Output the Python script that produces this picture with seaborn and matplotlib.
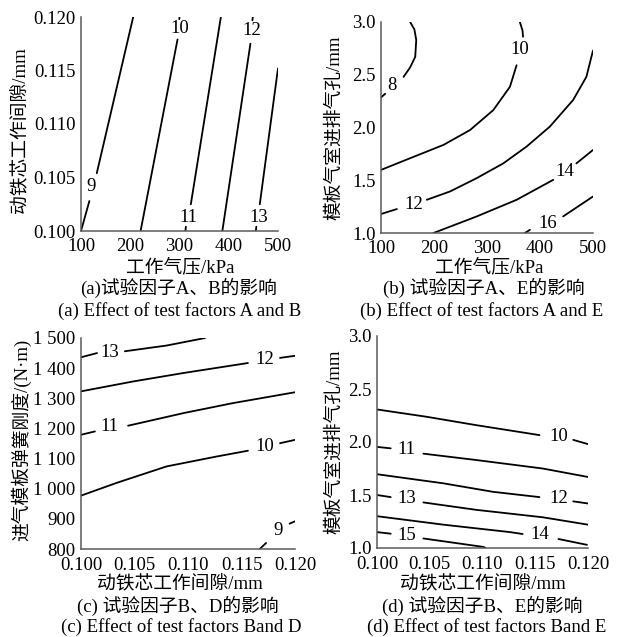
import matplotlib
matplotlib.use("Agg")
import matplotlib.pyplot as plt
import seaborn as sns
import pandas as pd

sns.set_theme(style="white")
FAM = ["Liberation Serif", "Noto Sans CJK SC", "DejaVu Sans"]
plt.rcParams["font.family"] = FAM

# ---------------- data ----------------
# Panel (a): x = working pressure kPa, y = moving core gap mm
a_lines = {
    9: [[(100, 0.100), (117, 0.1028)], [(132, 0.1054), (206, 0.120)]],
    10: [[(221, 0.100), (296, 0.1179)], [(299.5, 0.1198), (300, 0.120)]],
    11: [[(312, 0.100), (313, 0.1004)], [(323, 0.1025), (384, 0.120)]],
    12: [[(387, 0.100), (444, 0.1175)], [(448, 0.1197), (449, 0.120)]],
    13: [[(455, 0.100), (456, 0.1004)], [(463, 0.1025), (500, 0.1152)]],
}
a_label_pos = {9: (121, 0.1042), 10: (300, 0.1189), 11: (319, 0.1013),
               12: (447, 0.1187), 13: (461, 0.1013)}

# Panel (b): x = working pressure kPa, y = vent hole mm
b_lines = {
    8: [[(155, 3.0), (163, 2.93), (166.5, 2.83), (164.6, 2.67), (155, 2.57), (142.6, 2.48)],
        [(108, 2.32), (100, 2.285)]],
    10: [[(362, 3.0), (367, 2.92), (368, 2.86)],
         [(355.8, 2.59), (343.3, 2.386), (311.9, 2.165), (268, 1.976),
          (217.9, 1.835), (155, 1.709), (100, 1.598)]],
    12: [[(500, 2.73), (487.5, 2.48), (462.4, 2.26), (418.5, 2.008), (374.6, 1.819),
          (330.7, 1.66), (280.6, 1.52), (230.4, 1.394), (186.5, 1.315)],
         [(130, 1.227), (100, 1.18)]],
    14: [[(199, 1.0), (280.6, 1.157), (356, 1.315), (425, 1.504)],
         [(468.7, 1.66), (500, 1.787)]],
    16: [[(371.5, 1.0), (381, 1.03)], [(443.6, 1.157), (500, 1.346)]],
}
b_label_pos = {8: (121, 2.40), 10: (362, 2.74), 12: (162.7, 1.268),
               14: (447, 1.583), 16: (415, 1.094)}

# Panel (c): x = moving core gap mm, y = spring stiffness N/m
c_lines = {
    13: [[(0.100, 1436), (0.1015, 1450)],
         [(0.1041, 1456), (0.108, 1475), (0.1116, 1500)]],
    12: [[(0.100, 1323), (0.1049, 1356), (0.1096, 1384), (0.1156, 1417)],
         [(0.1186, 1434), (0.120, 1441)]],
    11: [[(0.100, 1179), (0.1013, 1190)],
         [(0.1044, 1209), (0.1096, 1251), (0.1142, 1284), (0.120, 1320)]],
    10: [[(0.100, 977), (0.1033, 1019), (0.108, 1074), (0.1127, 1107), (0.1156, 1126)],
         [(0.1186, 1151), (0.120, 1162)]],
    9: [[(0.1167, 800), (0.1173, 820)], [(0.1195, 884), (0.120, 892)]],
}
c_label_pos = {13: (0.1027, 1452), 12: (0.1172, 1428), 11: (0.1027, 1205),
               10: (0.1172, 1140), 9: (0.1184, 862)}

# Panel (d): x = moving core gap mm, y = vent hole mm
d_lines = {
    10: [[(0.100, 2.307), (0.1047, 2.238), (0.1094, 2.159), (0.1154, 2.065)],
         [(0.1186, 2.02), (0.120, 1.98)]],
    11: [[(0.100, 1.954), (0.1013, 1.94)],
         [(0.1044, 1.89), (0.1094, 1.83), (0.1157, 1.75), (0.120, 1.67)]],
    12: [[(0.100, 1.696), (0.1063, 1.61), (0.111, 1.53), (0.1154, 1.48)],
         [(0.1186, 1.44), (0.120, 1.42)]],
    13: [[(0.100, 1.50), (0.1013, 1.48)],
         [(0.1044, 1.43), (0.1094, 1.36), (0.1157, 1.29), (0.120, 1.22)]],
    14: [[(0.100, 1.30), (0.1063, 1.22), (0.1126, 1.15), (0.1138, 1.132)],
         [(0.1172, 1.085), (0.1199, 1.03)]],
    15: [[(0.100, 1.15), (0.1013, 1.135)],
         [(0.1044, 1.09), (0.1101, 1.01), (0.1103, 1.0)]],
}
d_label_pos = {10: (0.1172, 2.05), 11: (0.1028, 1.93), 12: (0.1172, 1.47),
               13: (0.1028, 1.47), 14: (0.11545, 1.123), 15: (0.1028, 1.12)}

# axis ticks
a_xticks = [100, 200, 300, 400, 500]
a_yticks = [0.100, 0.105, 0.110, 0.115, 0.120]
b_xticks = [100, 200, 300, 400, 500]
b_yticks = [1.0, 1.5, 2.0, 2.5, 3.0]
c_xticks = [0.100, 0.105, 0.110, 0.115, 0.120]
c_yticks = [800, 900, 1000, 1100, 1200, 1300, 1400, 1500]
c_yticklabels = ["800", "900", "1 000", "1 100", "1 200", "1 300", "1 400", "1 500"]
d_xticks = [0.100, 0.105, 0.110, 0.115, 0.120]
d_yticks = [1.0, 1.5, 2.0, 2.5, 3.0]

# ---------------- figure ----------------
W, H = 620, 637
fig = plt.figure(figsize=(W / 100, H / 100), dpi=100)


def rect(l, t, r, b):
    return [l / W, 1 - b / H, (r - l) / W, (b - t) / H]


ax_a = fig.add_axes(rect(81, 17, 278, 231))
ax_b = fig.add_axes(rect(381, 22, 593, 233))
ax_c = fig.add_axes(rect(81, 338, 295, 549))
ax_d = fig.add_axes(rect(377, 336, 588, 548))

FS = 13.5
SPINE = "#5a5a5a"


def draw(ax, lines, label_pos, xlim, ylim, xticks, yticks, xfmt, yfmt,
         yticklabels=None, xpad=5):
    for lev, segs in lines.items():
        for seg in segs:
            df = pd.DataFrame(seg, columns=["x", "y"])
            sns.lineplot(data=df, x="x", y="y", ax=ax, color="black", lw=1.3,
                         sort=False, estimator=None)
        lx, ly = label_pos[lev]
        ax.text(lx, ly, str(lev), ha="center", va="center", fontsize=FS,
                family=FAM, color="black")
    ax.set_xlim(*xlim)
    ax.set_ylim(*ylim)
    ax.set_xticks(xticks)
    ax.set_xticklabels([xfmt.format(v) for v in xticks], fontsize=FS, family=FAM)
    ax.set_yticks(yticks)
    if yticklabels is None:
        yticklabels = [yfmt.format(v) for v in yticks]
    ax.set_yticklabels(yticklabels, fontsize=FS, family=FAM)
    ax.set_xlabel("")
    ax.set_ylabel("")
    for s in ["top", "right"]:
        ax.spines[s].set_visible(False)
    for s in ["left", "bottom"]:
        ax.spines[s].set_color(SPINE)
        ax.spines[s].set_linewidth(1.1)
    ax.tick_params(direction="in", length=3, width=0.9, color=SPINE,
                   labelcolor="black")
    ax.tick_params(axis="y", pad=4)
    ax.tick_params(axis="x", pad=xpad)
    ax.set_facecolor("white")


draw(ax_a, a_lines, a_label_pos, (100, 500), (0.100, 0.120), a_xticks, a_yticks,
     "{:.0f}", "{:.3f}")
draw(ax_b, b_lines, b_label_pos, (100, 500), (1.0, 3.0), b_xticks, b_yticks,
     "{:.0f}", "{:.1f}")
draw(ax_c, c_lines, c_label_pos, (0.100, 0.120), (800, 1500), c_xticks, c_yticks,
     "{:.3f}", "{:.0f}", c_yticklabels, xpad=6)
draw(ax_d, d_lines, d_label_pos, (0.100, 0.120), (1.0, 3.0), d_xticks, d_yticks,
     "{:.3f}", "{:.1f}", xpad=6)


def ftext(x, y, s, rot=0):
    fig.text(x / W, 1 - y / H, s, ha="center", va="center", rotation=rot,
             fontsize=FS, family=FAM, color="black")


# axis titles
ftext(180, 267, "工作气压/kPa")
ftext(489, 267, "工作气压/kPa")
ftext(180, 585, "动铁芯工作间隙/mm")
ftext(483, 585, "动铁芯工作间隙/mm")
ftext(21, 130, "动铁芯工作间隙/mm", rot=90)
ftext(334, 128, "模板气室进排气孔/mm", rot=90)
ftext(21, 440, "进气模板弹簧刚度/(N·m)", rot=90)
ftext(334, 442, "模板气室进排气孔/mm", rot=90)

# captions
ftext(179, 288, "(a)试验因子A、B的影响")
ftext(180, 311, "(a) Effect of test factors A and B")
ftext(484, 288, "(b) 试验因子A、E的影响")
ftext(482, 311, "(b) Effect of test factors A and E")
ftext(178, 606, "(c) 试验因子B、D的影响")
ftext(181, 627, "(c) Effect of test factors Band D")
ftext(482, 606, "(d) 试验因子B、E的影响")
ftext(487, 627, "(d) Effect of test factors Band E")

fig.savefig("out.png", dpi=100, facecolor="white")
